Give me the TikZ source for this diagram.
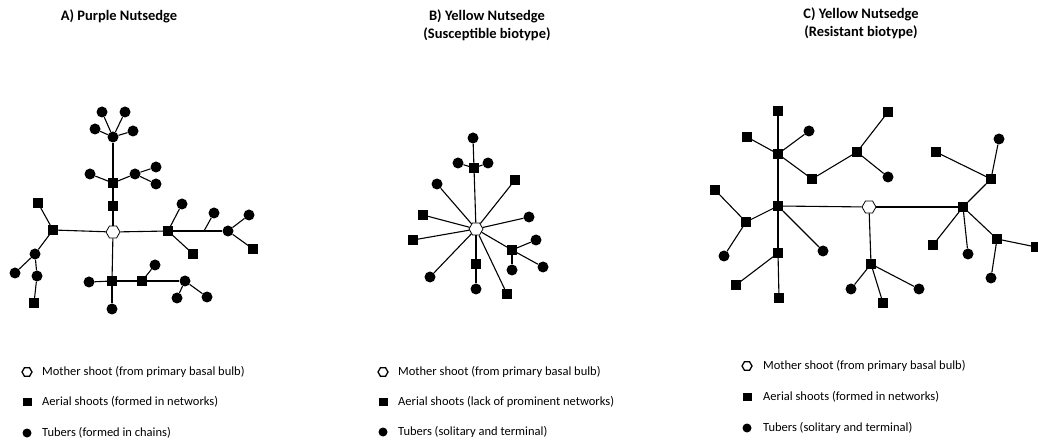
\documentclass[tikz,border=0pt]{standalone}
\usepackage{fontspec}
\setmainfont{Carlito}
\usetikzlibrary{shapes.geometric}

\tikzset{
  sqnode/.style={rectangle, fill=black, inner sep=0pt, minimum size=9.5pt},
  tbnode/.style={circle, fill=black, inner sep=0pt, minimum size=11pt},
  msnode/.style={regular polygon, regular polygon sides=6, draw=black, fill=white, line width=0.8pt, inner sep=0pt, minimum size=14pt},
  edge/.style={line width=1.1pt},
  keytext/.style={anchor=west, font=\fontsize{12.5}{14}\selectfont, inner sep=0pt},
  heading/.style={font=\bfseries\fontsize{14.5}{18}\selectfont, align=center, inner sep=0pt}
}

\begin{document}
\begin{tikzpicture}[x=1pt, y=-1pt]
\useasboundingbox (0,0) rectangle (1038,443);

% Headings
\node[heading] (ta) at (119,16) {A) Purple Nutsedge};
\node[heading] (tb) at (487,25) {B) Yellow Nutsedge\\(Susceptible biotype)};
\node[heading] (tc) at (861,23) {C) Yellow Nutsedge\\(Resistant biotype)};

% A) Purple nutsedge (tubers in chains)
\node[msnode] (ams) at (113,232) {};
\node[sqnode] (a1) at (113,206) {};
\node[sqnode] (a2) at (113,183) {};
\node[tbnode] (a3) at (90,174) {};
\node[tbnode] (a4) at (135,174) {};
\node[tbnode] (a5) at (156,167) {};
\node[tbnode] (a6) at (156,184) {};
\node[tbnode] (a7) at (113,137) {};
\node[tbnode] (a8) at (102,112) {};
\node[tbnode] (a9) at (125,112) {};
\node[tbnode] (a10) at (95,129) {};
\node[tbnode] (a11) at (133,131) {};
\node[sqnode] (a12) at (53,230) {};
\node[sqnode] (a13) at (38,203) {};
\node[tbnode] (a14) at (35,254) {};
\node[tbnode] (a15) at (15,273) {};
\node[tbnode] (a16) at (37,276) {};
\node[sqnode] (a17) at (34,303) {};
\node[sqnode] (a18) at (168,231) {};
\node[tbnode] (a19) at (182,204) {};
\node[sqnode] (a20) at (193,254) {};
\node[tbnode] (a21) at (228,231) {};
\coordinate (aj) at (204,231);
\node[tbnode] (a22) at (214,213) {};
\node[tbnode] (a23) at (249,215) {};
\node[sqnode] (a24) at (253,249) {};
\node[sqnode] (a25) at (112,281) {};
\node[tbnode] (a26) at (89,282) {};
\node[tbnode] (a27) at (112,309) {};
\node[sqnode] (a28) at (142,281) {};
\node[tbnode] (a29) at (155,265) {};
\node[tbnode] (a30) at (185,281) {};
\node[tbnode] (a31) at (177,298) {};
\node[tbnode] (a32) at (207,297) {};
\foreach \u/\v in {ams/a1, a1/a2, a2/a3, a2/a4, a4/a5, a4/a6, a2/a7, a7/a8, a7/a9,
    a7/a10, a7/a11, ams/a12, a12/a13, a12/a14, a14/a15, a14/a16, a16/a17,
    ams/a18, a18/a19, a18/a20, a18/a21, aj/a22, a21/a23, a21/a24,
    ams/a25, a25/a26, a25/a27, a25/a28, a28/a29, a28/a30, a30/a31, a30/a32}
  \draw[edge] (\u) -- (\v);

% B) Yellow nutsedge, susceptible (solitary tubers)
\node[msnode] (bms) at (476,229) {};
\node[sqnode] (b1) at (474,168) {};
\node[tbnode] (b2) at (473,138) {};
\node[tbnode] (b3) at (458,163) {};
\node[tbnode] (b4) at (488,163) {};
\node[tbnode] (b5) at (437,184) {};
\node[sqnode] (b6) at (515,180) {};
\node[sqnode] (b7) at (423,215) {};
\node[tbnode] (b8) at (529,217) {};
\node[sqnode] (b9) at (413,240) {};
\node[sqnode] (b10) at (512,250) {};
\node[tbnode] (b11) at (536,240) {};
\node[tbnode] (b12) at (543,267) {};
\node[tbnode] (b13) at (512,270) {};
\node[sqnode] (b14) at (476,264) {};
\node[tbnode] (b15) at (476,289) {};
\node[tbnode] (b16) at (430,277) {};
\node[sqnode] (b17) at (507,294) {};
\foreach \u/\v in {bms/b1, b1/b2, b1/b3, b1/b4, bms/b5, bms/b6, bms/b7, bms/b8,
    bms/b9, bms/b10, b10/b11, b10/b12, b10/b13, bms/b14, b14/b15, bms/b16, bms/b17}
  \draw[edge] (\u) -- (\v);

% C) Yellow nutsedge, resistant (shoot networks)
\node[msnode] (cms) at (869,207) {};
\node[sqnode] (c1) at (778,206) {};
\node[sqnode] (c2) at (963,207) {};
\node[sqnode] (c3) at (871,264) {};
\node[tbnode] (c4) at (851,289) {};
\node[tbnode] (c5) at (919,289) {};
\node[sqnode] (c6) at (883,303) {};
\node[sqnode] (c7) at (778,154) {};
\node[sqnode] (c8) at (778,111) {};
\node[sqnode] (c9) at (747,137) {};
\node[tbnode] (c10) at (809,131) {};
\node[sqnode] (c11) at (812,179) {};
\node[sqnode] (c12) at (857,152) {};
\node[sqnode] (c13) at (888,112) {};
\node[tbnode] (c14) at (888,177) {};
\node[sqnode] (c15) at (746,222) {};
\node[sqnode] (c16) at (715,190) {};
\node[tbnode] (c17) at (724,256) {};
\node[tbnode] (c18) at (823,251) {};
\node[sqnode] (c19) at (778,253) {};
\node[sqnode] (c20) at (779,298) {};
\node[sqnode] (c21) at (736,285) {};
\node[sqnode] (c22) at (991,179) {};
\node[sqnode] (c23) at (936,152) {};
\node[tbnode] (c24) at (999,139) {};
\node[sqnode] (c25) at (933,245) {};
\node[tbnode] (c26) at (968,254) {};
\node[sqnode] (c27) at (997,239) {};
\node[sqnode] (c28) at (1036,247) {};
\node[tbnode] (c29) at (991,278) {};
\foreach \u/\v in {cms/c1, cms/c2, cms/c3, c3/c4, c3/c5, c3/c6, c1/c7, c7/c8,
    c7/c9, c7/c10, c7/c11, c11/c12, c12/c13, c12/c14, c1/c15, c15/c16, c15/c17,
    c1/c18, c1/c19, c19/c20, c19/c21, c2/c22, c22/c23, c22/c24, c2/c25, c2/c26,
    c2/c27, c27/c28, c27/c29}
  \draw[edge] (\u) -- (\v);

% Keys
\foreach \p/\sx/\tx/\ya/\yb/\yc/\sq/\tb in {
    ka/27/42/372/402/433/formed in networks/formed in chains,
    kb/383/398/372/402/432/lack of prominent networks/solitary and terminal,
    kc/747/763/366/397/428/formed in networks/solitary and terminal} {
  \node[msnode, minimum size=10pt, line width=1.3pt] (\p m) at (\sx,\ya) {};
  \node[sqnode, minimum width=9pt, minimum height=8pt] (\p s) at (\sx,\yb) {};
  \node[tbnode, minimum size=9pt] (\p t) at (\sx,\yc) {};
  \node[keytext] (\p mt) at (\tx,\ya) {Mother shoot (from primary basal bulb)};
  \node[keytext] (\p st) at (\tx,\yb) {Aerial shoots (\sq)};
  \node[keytext] (\p tt) at (\tx,\yc) {Tubers (\tb)};
}
\end{tikzpicture}
\end{document}
